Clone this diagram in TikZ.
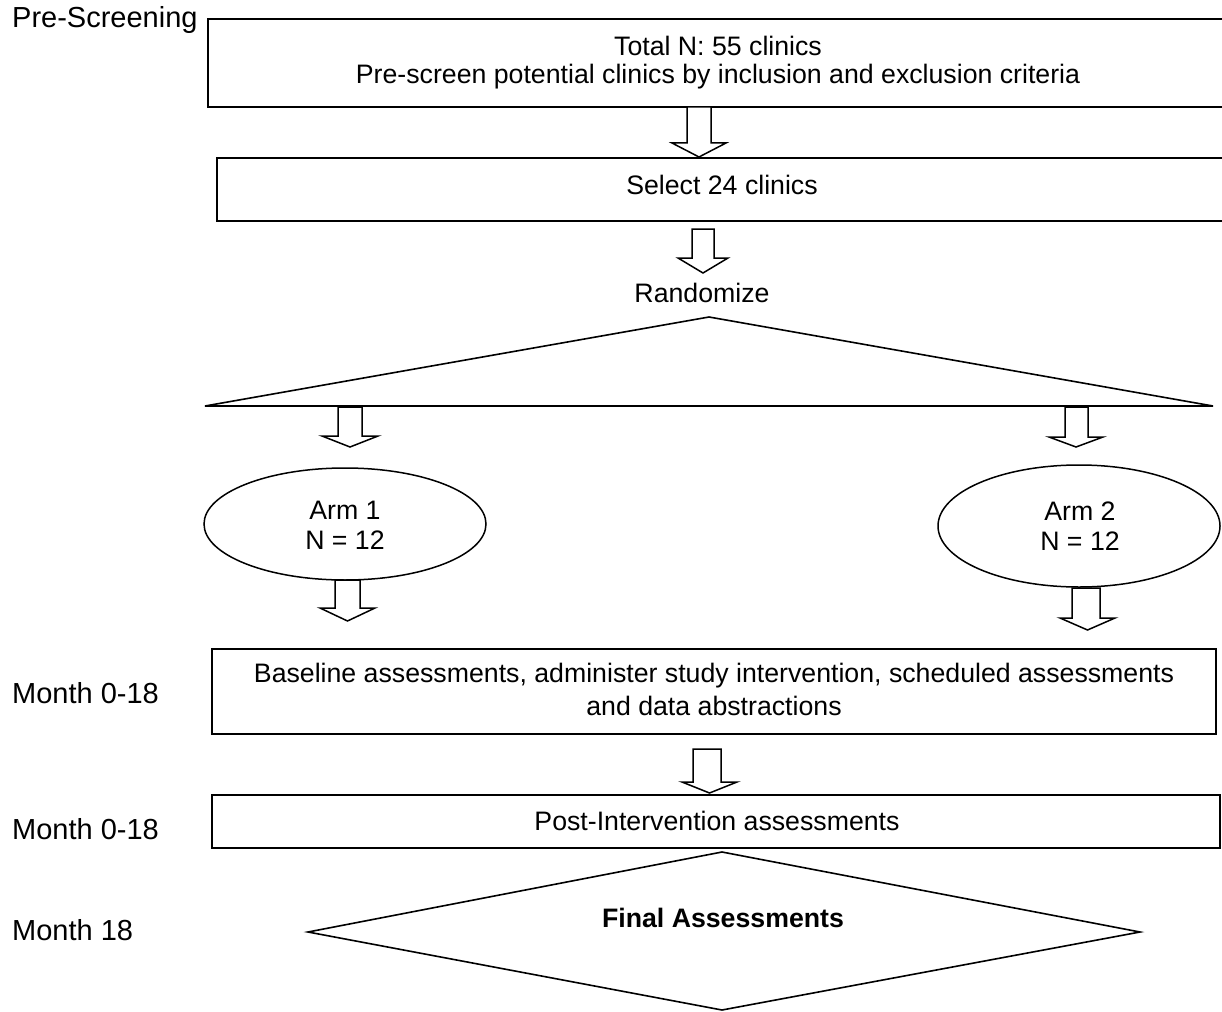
\documentclass[tikz,border=0pt]{standalone}
\usepackage{fontspec}
\setmainfont{Liberation Sans}
\usetikzlibrary{shapes.geometric}
\begin{document}
\begin{tikzpicture}[x=1pt,y=-1pt,
  every node/.style={font=\fontsize{26.7}{30}\selectfont, inner sep=0pt, align=center},
  boxline/.style={draw=black, line width=1.6pt},
  barrow/.style={draw=black, line width=1.5pt, fill=white, line join=miter},
  sideLbl/.style={anchor=west, font=\fontsize{29}{32}\selectfont}]
\useasboundingbox (0,0) rectangle (1222,1011);
% boxes
\draw[boxline] (208,19) rectangle (1240,107);
\draw[boxline] (217,158) rectangle (1240,221);
\draw[boxline] (212,649) rectangle (1216,734);
\draw[boxline] (212,795) rectangle (1220,848);
% triangle
\draw[boxline, line join=miter] (205,406) -- (709,317) -- (1213,406) -- cycle;
% diamond
\draw[boxline, line join=miter] (722,852) -- (1140,932) -- (722,1010) -- (308,932) -- cycle;
% ellipses
\node[draw, line width=1.5pt, ellipse, minimum width=282, minimum height=112] (arm1) at (345,524) {};
\node[draw, line width=1.5pt, ellipse, minimum width=282, minimum height=122] (arm2) at (1079,526) {};
% block arrows
\newcommand\blockarr[7]{\draw[barrow] (#1,#5) -- (#1,#6) -- (#3,#6) -- ({(#3+#4)/2},#7) -- (#4,#6) -- (#2,#6) -- (#2,#5) -- cycle;}
\blockarr{687}{711}{672}{726}{107}{143}{157}
\blockarr{692}{714}{678}{728}{229}{258}{273}
\blockarr{338}{362}{322}{378}{407}{436}{447}
\blockarr{1065}{1088}{1049}{1103}{407}{437}{447}
\blockarr{335}{360}{320}{375}{580}{608}{621}
\blockarr{1072}{1100}{1060}{1115}{588}{618}{630}
\blockarr{693}{721}{682}{737}{749}{782}{793}
% texts
\node[sideLbl] (pre) at (12,20) {Pre-Screening};
\node (t1) at (718,46) {Total N: 55 clinics};
\node (t2) at (718,77) {Pre-screen potential clinics by inclusion and exclusion criteria};
\node (t3) at (722,185) {Select 24 clinics};
\node (rand) at (702,293) {Randomize};
\node (a1a) at (345,510) {Arm 1};
\node (a1b) at (345,540) {N = 12};
\node (a2a) at (1080,511) {Arm 2};
\node (a2b) at (1080,541) {N = 12};
\node (b1) at (714,676) {Baseline assessments, administer study intervention, scheduled assessments};
\node (b2) at (714,706) {and data abstractions};
\node (post) at (717,821) {Post-Intervention assessments};
\node[font=\fontsize{26.7}{30}\selectfont\bfseries] (fin) at (723,918) {Final Assessments};
\node[sideLbl] (m1) at (12,693) {Month 0-18};
\node[sideLbl] (m2) at (12,829) {Month 0-18};
\node[sideLbl] (m3) at (12,930) {Month 18};
\end{tikzpicture}
\end{document}
